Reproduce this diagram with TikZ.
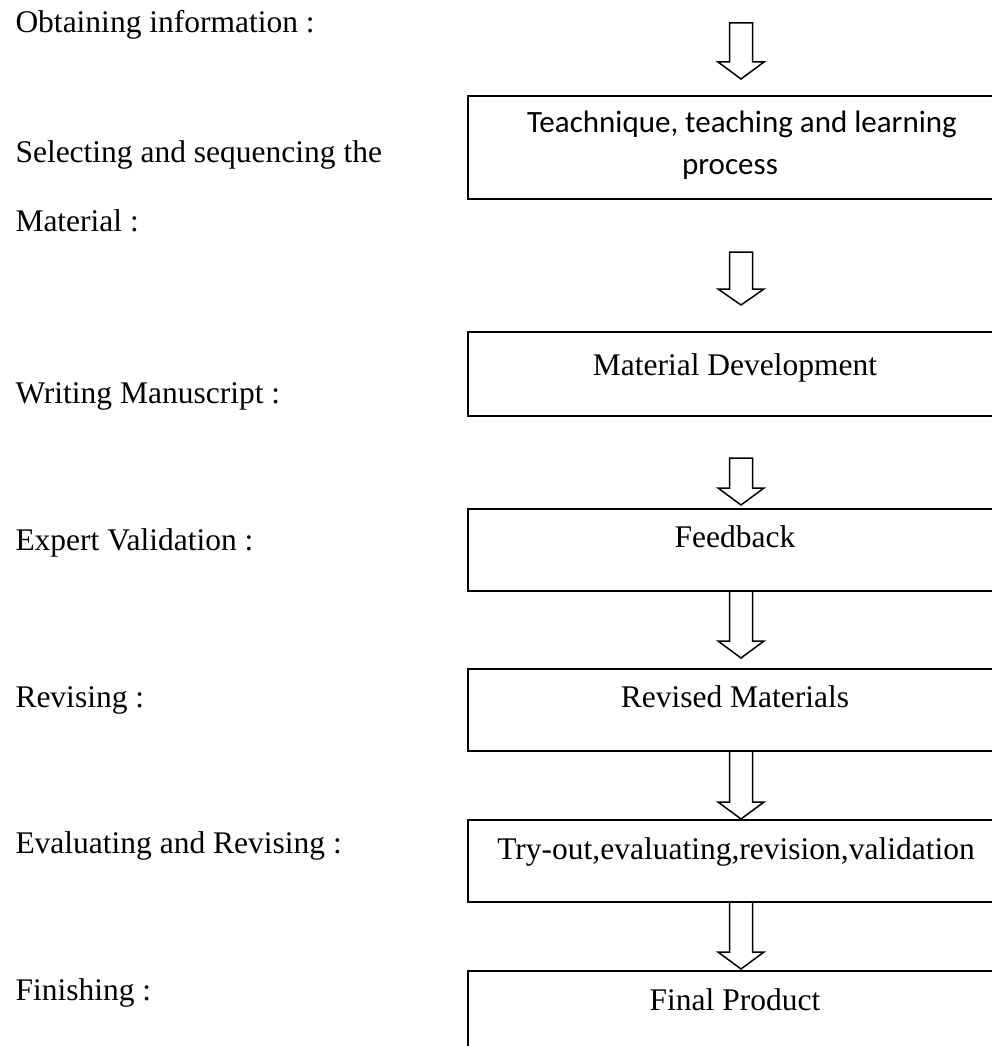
\documentclass[tikz,border=0pt]{standalone}
\usepackage{fontspec}
\setmainfont{Liberation Serif}
\newfontfamily\calibfont{Carlito}
\usetikzlibrary{calc}
\tikzset{
  box/.style={rectangle, inner sep=0pt, outer sep=0pt, anchor=north west,
              minimum width=240pt},
  boxline/.style={line width=0.9pt, line join=miter},
  lbl/.style={font=\fontsize{12.6}{15}\selectfont, inner sep=0pt, anchor=base west},
  btxt/.style={font=\fontsize{12.6}{15}\selectfont, inner sep=0pt, anchor=base},
  ctxt/.style={font=\calibfont\fontsize{12.4}{15}\selectfont, inner sep=0pt, anchor=base},
  blk/.style={draw, line width=0.6pt, fill=white, line join=miter}
}
\newcommand\blkarrow[3]{\draw[blk] ($#1+(-11.5,0)$) -- ++(0,#2) -- ++(-11.5,0) -- ++(23,#3) -- ++(23,-#3) -- ++(-11.5,0) -- ++(0,-#2) -- cycle;}
\newcommand\openbox[1]{\draw[boxline] (#1.north east) -- (#1.north west) -- (#1.south west) -- (#1.south east);}
\begin{document}
\begin{tikzpicture}[x=0.4pt,y=-0.4pt]
\useasboundingbox (0,0) rectangle (992,1046);
\clip (0,0) rectangle (992,1046);
% left labels
\node[lbl] (l1) at (15,33) {Obtaining information :};
\node[lbl] (l2) at (15,162) {Selecting and sequencing the};
\node[lbl] (l3) at (15,231) {Material :};
\node[lbl] (l4) at (15,403) {Writing Manuscript :};
\node[lbl] (l5) at (15,550) {Expert Validation :};
\node[lbl] (l6) at (15,707) {Revising :};
\node[lbl] (l7) at (15,853) {Evaluating and Revising :};
\node[lbl] (l8) at (15,1000) {Finishing :};
% boxes (right side runs off the page)
\node[box, minimum height=41.2pt] (b1) at (468,96) {};
\node[box, minimum height=33.6pt] (b2) at (468,332) {};
\node[box, minimum height=32.8pt] (b3) at (468,509) {};
\node[box, minimum height=32.8pt] (b4) at (468,669) {};
\node[box, minimum height=32.8pt] (b5) at (468,820) {};
\node[box, minimum height=60pt] (b6) at (468,971) {};
\openbox{b1}\openbox{b2}\openbox{b3}\openbox{b4}\openbox{b5}\openbox{b6}
% box texts
\node[ctxt] (t1a) at (742,132) {Teachnique, teaching and learning};
\node[ctxt] (t1b) at (730,175) {process};
\node[btxt] (t2) at (735,375) {Material Development};
\node[btxt] (t3) at (735,547) {Feedback};
\node[btxt] (t4) at (735,707) {Revised Materials};
\node[btxt] (t5) at (736,859) {Try-out,evaluating,revision,validation};
\node[btxt] (t6) at (735,1010) {Final Product};
% arrows
\coordinate (a1) at (741,23);
\coordinate (a2) at (741,252);
\coordinate (a3) at (741,458);
\coordinate (a4) at ($(b3.south west)+(273,0)$);
\coordinate (a5) at ($(b4.south west)+(273,0)$);
\coordinate (a6) at ($(b5.south west)+(273,0)$);
\blkarrow{(a1)}{39}{17}
\blkarrow{(a2)}{37}{16}
\blkarrow{(a3)}{30}{17}
\blkarrow{(a4)}{50}{17}
\blkarrow{(a5)}{51}{17}
\blkarrow{(a6)}{50}{17}
\end{tikzpicture}
\end{document}
